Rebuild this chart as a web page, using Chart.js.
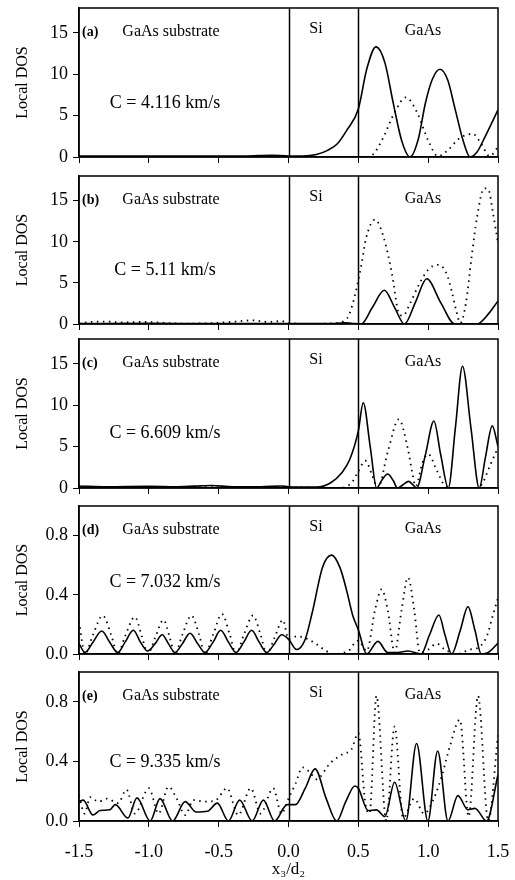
<!DOCTYPE html>
<html>
<head>
<meta charset="utf-8">
<script src="https://cdn.jsdelivr.net/npm/chart.js@4/dist/chart.umd.min.js"></script>
<style>
  body { margin: 0; background: #fff; }
  #wrap { position: relative; width: 515px; height: 880px; }
  canvas { position: absolute; left: 0; }
</style>
</head>
<body>
<div id="wrap"></div>
<script>
//---------------------Data-----------------------------
const xTicks = [-1.5, -1.0, -0.5, 0.0, 0.5, 1.0, 1.5];
const interfaces = [0.0, 0.5];
const panelTags = ["(a)", "(b)", "(c)", "(d)", "(e)"];
const speeds = ["C = 4.116 km/s", "C = 5.11 km/s", "C = 6.609 km/s", "C = 7.032 km/s", "C = 9.335 km/s"];
const regionNames = ["GaAs substrate", "Si", "GaAs"];
const yMax = [18, 18, 18, 1, 1];
const yStep = [5, 5, 5, 0.4, 0.4];

// [x3/d2, local DOS]
const aSolid = [[-1.5,0.1],[-1.2,0.1],[-0.9,0.1],[-0.6,0.1],[-0.3,0.12],[-0.12,0.22],[0.0,0.12],[0.1,0.12],[0.2,0.3],[0.28,0.8],[0.35,1.6],[0.42,3.3],[0.5,5.8],[0.56,10.6],[0.626,13.3],[0.69,11.4],[0.75,6.5],[0.81,2.0],[0.87,0],[0.93,2.2],[0.98,6.5],[1.03,9.4],[1.085,10.6],[1.14,9.3],[1.19,6.0],[1.25,2.0],[1.30,0],[1.35,0.6],[1.40,2.2],[1.5,5.7]];
const aDotted = [[-1.5,0],[0.2,0],[0.4,0],[0.55,0],[0.61,0.4],[0.68,2.4],[0.76,5.4],[0.84,7.2],[0.92,5.4],[1.0,2.0],[1.07,0.1],[1.14,0.8],[1.22,2.2],[1.32,2.8],[1.38,1.6],[1.44,0.1],[1.5,1.2]];

const bSolid = [[-1.5,0.05],[-1.0,0.08],[-0.5,0.05],[0.0,0.05],[0.3,0.05],[0.4,0.15],[0.45,0.1],[0.52,0],[0.6,2.0],[0.686,4.1],[0.76,2.0],[0.83,0],[0.91,2.7],[0.99,5.5],[1.09,2.6],[1.19,0],[1.35,0],[1.43,1.2],[1.5,2.8]];
const bDotted = [[-1.5,0.05],[-1.42,0.25],[-1.3,0.3],[-1.2,0.2],[-1.05,0.25],[-0.9,0.15],[-0.75,0.05],[-0.55,0.1],[-0.38,0.3],[-0.25,0.45],[-0.15,0.25],[-0.05,0.35],[0.0,0.15],[0.15,0.0],[0.33,0.1],[0.42,0.7],[0.476,3.5],[0.524,7.4],[0.555,10.4],[0.62,12.7],[0.68,10.6],[0.74,6.2],[0.79,1.3],[0.82,1.0],[0.87,2.5],[0.94,5.0],[1.0,6.6],[1.07,7.2],[1.13,6.2],[1.167,4.1],[1.2,1.7],[1.23,0.1],[1.27,2.5],[1.31,8.0],[1.35,13.0],[1.4,16.5],[1.43,16.4],[1.465,13.4],[1.5,9.8]];

const cSolid = [[-1.5,0.25],[-1.3,0.15],[-1.0,0.2],[-0.8,0.15],[-0.55,0.3],[-0.4,0.15],[-0.2,0.15],[-0.05,0.25],[0.0,0.15],[0.2,0.1],[0.3,0.6],[0.38,1.8],[0.44,3.5],[0.5,6.9],[0.535,10.3],[0.585,5.0],[0.631,0],[0.67,1.0],[0.71,1.7],[0.75,0.9],[0.78,0],[0.82,0.4],[0.86,0.8],[0.89,0.4],[0.917,0],[0.98,4.0],[1.041,8.1],[1.09,4.0],[1.144,0],[1.195,7.3],[1.246,14.7],[1.306,7.3],[1.366,0],[1.41,3.7],[1.459,7.5],[1.5,5.0]];
const cDotted = [[-1.5,0.1],[-1.0,0.1],[-0.5,0.1],[0.0,0.1],[0.35,0],[0.45,0.6],[0.5,2.0],[0.55,3.3],[0.6,1.5],[0.64,0],[0.71,4.3],[0.79,8.3],[0.855,4.7],[0.89,1.5],[0.91,0.2],[0.96,3.1],[1.0,4.1],[1.06,2.2],[1.12,0.3],[1.2,0],[1.35,0],[1.39,0.6],[1.44,2.6],[1.5,4.9]];

const dSolid = [[-1.5,0.07],[-1.457,0.01],[-1.40,0.08],[-1.337,0.155],[-1.28,0.08],[-1.223,0.01],[-1.17,0.08],[-1.111,0.16],[-1.06,0.08],[-1.008,0.02],[-0.955,0.07],[-0.904,0.13],[-0.86,0.07],[-0.813,0.01],[-0.76,0.07],[-0.705,0.14],[-0.65,0.07],[-0.598,0.01],[-0.54,0.08],[-0.486,0.16],[-0.43,0.08],[-0.376,0.01],[-0.32,0.08],[-0.264,0.16],[-0.21,0.08],[-0.156,0.01],[-0.10,0.07],[-0.049,0.13],[0.0,0.1],[0.058,0.03],[0.12,0.1],[0.17,0.28],[0.245,0.59],[0.309,0.668],[0.37,0.58],[0.416,0.43],[0.46,0.26],[0.5,0.163],[0.56,0],[0.64,0.085],[0.71,0.01],[0.78,0.01],[0.855,0.02],[0.95,0],[1.01,0.13],[1.077,0.264],[1.12,0.13],[1.168,0],[1.23,0.16],[1.285,0.32],[1.335,0.16],[1.38,0],[1.43,0.01],[1.5,0.074]];
const dDotted = [[-1.5,0.22],[-1.457,0.0],[-1.40,0.13],[-1.33,0.26],[-1.27,0.13],[-1.223,0.0],[-1.17,0.12],[-1.10,0.25],[-1.05,0.12],[-1.008,0.0],[-0.955,0.11],[-0.895,0.23],[-0.85,0.11],[-0.813,0.0],[-0.76,0.13],[-0.695,0.26],[-0.64,0.13],[-0.598,0.0],[-0.54,0.13],[-0.476,0.27],[-0.42,0.13],[-0.376,0.0],[-0.32,0.13],[-0.254,0.26],[-0.2,0.13],[-0.156,0.0],[-0.10,0.11],[-0.04,0.23],[0.0,0.1],[0.06,0.12],[0.14,0.1],[0.21,0.06],[0.27,0.02],[0.33,0.0],[0.4,0.01],[0.44,0.03],[0.47,0.07],[0.5,0.09],[0.56,0.02],[0.62,0.3],[0.667,0.437],[0.71,0.3],[0.76,0.01],[0.81,0.3],[0.855,0.517],[0.9,0.3],[0.94,0.01],[1.0,0.03],[1.06,0.07],[1.12,0.03],[1.2,0.0],[1.3,0.03],[1.37,0.05],[1.42,0.12],[1.46,0.25],[1.5,0.38]];

const eSolid = [[-1.5,0.13],[-1.47,0.14],[-1.40,0.04],[-1.35,0.07],[-1.28,0.075],[-1.24,0.11],[-1.15,0.02],[-1.085,0.155],[-0.99,0.0],[-0.92,0.15],[-0.83,0.0],[-0.74,0.13],[-0.66,0.06],[-0.58,0.065],[-0.51,0.12],[-0.43,0.0],[-0.35,0.14],[-0.26,0.0],[-0.18,0.14],[-0.10,0.0],[-0.01,0.11],[0.05,0.11],[0.12,0.22],[0.19,0.35],[0.27,0.15],[0.345,0.0],[0.41,0.13],[0.475,0.235],[0.5,0.22],[0.57,0.07],[0.63,0.075],[0.69,0.03],[0.76,0.26],[0.84,0.0],[0.917,0.52],[0.998,0.0],[1.068,0.47],[1.142,0.0],[1.213,0.17],[1.285,0.075],[1.335,0.085],[1.418,0.0],[1.5,0.31]];
const eDotted = [[-1.5,0.17],[-1.46,0.05],[-1.42,0.16],[-1.36,0.13],[-1.3,0.15],[-1.22,0.12],[-1.16,0.21],[-1.1,0.05],[-1.0,0.22],[-0.93,0.05],[-0.86,0.23],[-0.8,0.15],[-0.74,0.04],[-0.68,0.14],[-0.6,0.13],[-0.52,0.14],[-0.44,0.22],[-0.36,0.04],[-0.27,0.22],[-0.2,0.05],[-0.11,0.22],[-0.05,0.05],[0.0,0.15],[0.05,0.25],[0.1,0.36],[0.15,0.33],[0.2,0.28],[0.3,0.39],[0.39,0.45],[0.45,0.48],[0.5,0.59],[0.55,0.12],[0.58,0.05],[0.63,0.84],[0.7,0.0],[0.76,0.635],[0.82,0.02],[0.9,0.15],[0.97,0.05],[1.04,0.15],[1.1,0.31],[1.155,0.5],[1.227,0.68],[1.29,0.03],[1.357,0.84],[1.43,0.0],[1.5,0.58]];

const solid = [aSolid, bSolid, cSolid, dSolid, eSolid];
const dotted = [aDotted, bDotted, cDotted, dDotted, eDotted];

//---------------------Layout-----------------------------
const panelTop = [8, 176, 339, 506, 672];
const panelBottom = [157, 324, 488, 654, 821];
const speedY = [95, 94, 94, 76, 90];
const PAD_TOP = 8;
const SERIF = '"Liberation Serif", "DejaVu Serif", serif';

const wrap = document.getElementById("wrap");

const toPts = (arr) => arr.map((p) => ({ x: p[0], y: p[1] }));

function framePlugin(i) {
  return {
    id: "frame" + i,
    afterDraw(chart) {
      const ctx = chart.ctx;
      const a = chart.chartArea;
      const xs = chart.scales.x;
      ctx.save();
      ctx.strokeStyle = "#000";
      ctx.lineWidth = 1.5;
      ctx.strokeRect(a.left, a.top, a.right - a.left, a.bottom - a.top);
      interfaces.forEach((v) => {
        const px = Math.round(xs.getPixelForValue(v)) + 0.5;
        ctx.beginPath();
        ctx.moveTo(px, a.top);
        ctx.lineTo(px, a.bottom);
        ctx.stroke();
      });
      ctx.fillStyle = "#000";
      ctx.textBaseline = "middle";
      ctx.textAlign = "left";
      ctx.font = "bold 14px " + SERIF;
      ctx.fillText(panelTags[i], a.left + 3, a.top + 24);
      ctx.textAlign = "center";
      ctx.font = "16px " + SERIF;
      ctx.fillText(regionNames[0], a.left + 92, a.top + 24);
      ctx.fillText(regionNames[1], a.left + 237, a.top + 21);
      ctx.fillText(regionNames[2], a.left + 344, a.top + 23);
      ctx.font = "18px " + SERIF;
      ctx.fillText(speeds[i], a.left + 86, a.top + speedY[i]);
      ctx.restore();
    },
  };
}

function makePanel(i) {
  const last = i === 4;
  const axisH = last ? 59 : 12;
  const h = PAD_TOP + (panelBottom[i] - panelTop[i]) + axisH;
  const cv = document.createElement("canvas");
  cv.width = 515;
  cv.height = h;
  cv.style.top = panelTop[i] - PAD_TOP + "px";
  cv.style.width = "515px";
  cv.style.height = h + "px";
  wrap.appendChild(cv);

  new Chart(cv, {
    type: "line",
    data: {
      datasets: [
        {
          data: toPts(solid[i]),
          borderColor: "#000",
          borderWidth: 1.6,
          pointRadius: 0,
          cubicInterpolationMode: "monotone",
        },
        {
          data: toPts(dotted[i]),
          borderColor: "#000",
          borderWidth: 1.8,
          borderDash: [1.5, 4.5],
          pointRadius: 0,
          cubicInterpolationMode: "monotone",
        },
      ],
    },
    options: {
      responsive: false,
      animation: false,
      events: [],
      layout: { padding: { top: PAD_TOP, right: 17, left: 0, bottom: 0 } },
      plugins: { legend: { display: false }, tooltip: { enabled: false } },
      scales: {
        x: {
          type: "linear",
          min: -1.5,
          max: 1.5,
          afterBuildTicks: (s) => {
            s.ticks = xTicks.map((v) => ({ value: v }));
          },
          ticks: {
            display: last,
            padding: 14,
            color: "#000",
            maxRotation: 0,
            autoSkip: false,
            font: { family: SERIF, size: 18 },
            callback: (v) => Number(v).toFixed(1),
          },
          grid: { drawOnChartArea: false, tickLength: 6, color: "#000", lineWidth: 1 },
          border: { color: "#000", width: 1.5 },
          title: {
            display: last,
            text: "x₃/d₂",
            color: "#000",
            font: { family: SERIF, size: 17 },
            padding: { top: 0, bottom: 0 },
          },
          afterFit: (s) => {
            s.height = axisH;
            s.paddingLeft = 0;
            s.paddingRight = 0;
          },
        },
        y: {
          min: 0,
          max: yMax[i],
          ticks: {
            stepSize: yStep[i],
            includeBounds: false,
            padding: 5,
            color: "#000",
            font: { family: SERIF, size: 18 },
            callback: (v) => (yStep[i] < 1 ? Number(v).toFixed(1) : v),
          },
          grid: { drawOnChartArea: false, tickLength: 6, color: "#000", lineWidth: 1 },
          border: { color: "#000", width: 1.5 },
          title: {
            display: true,
            text: "Local DOS",
            color: "#000",
            font: { family: SERIF, size: 16 },
            padding: { top: 13, bottom: 0 },
          },
          afterFit: (s) => {
            s.width = 79;
            s.paddingTop = 0;
            s.paddingBottom = 0;
          },
        },
      },
    },
    plugins: [framePlugin(i)],
  });
}

for (let i = 0; i < 5; i++) makePanel(i);
</script>
</body>
</html>
